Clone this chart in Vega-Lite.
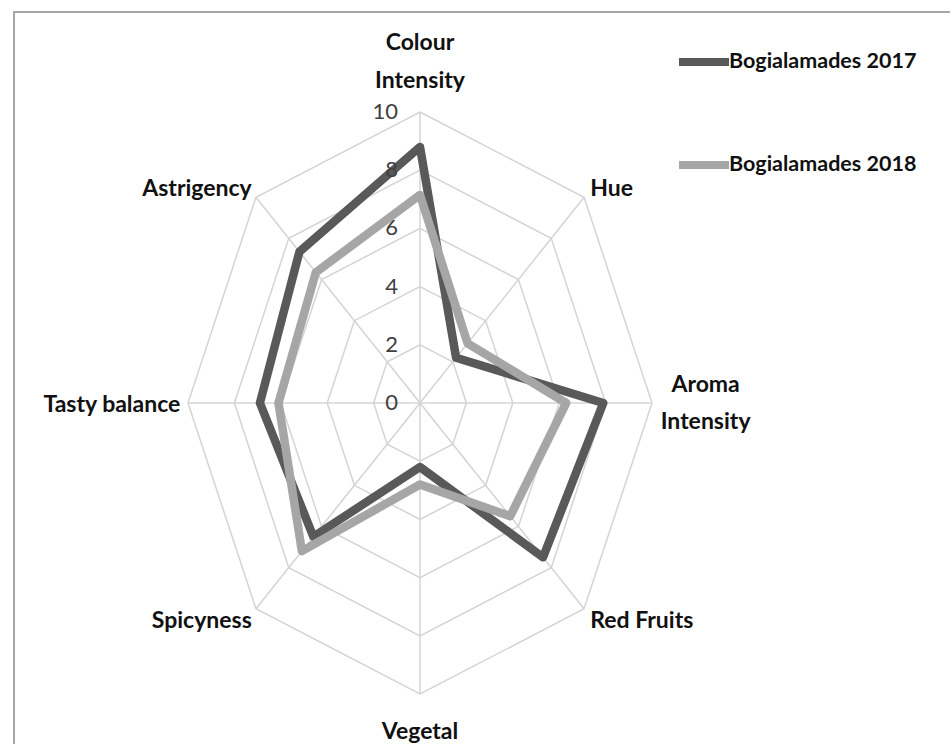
{
  "$schema": "https://vega.github.io/schema/vega-lite/v6.json",
  "width": 940,
  "height": 735,
  "autosize": {"type": "none"},
  "padding": {"left": 14, "top": 12, "right": 0, "bottom": 0},
  "background": "white",
  "config": {
    "view": {"stroke": "#a6a6a6", "strokeWidth": 2},
    "font": "Lato"
  },
  "datasets": {
    "scores": [
      {"series": "Bogialamades 2017", "cat": "Colour Intensity", "idx": 0, "value": 8.8},
      {"series": "Bogialamades 2017", "cat": "Hue", "idx": 1, "value": 2.2},
      {"series": "Bogialamades 2017", "cat": "Aroma Intensity", "idx": 2, "value": 7.9},
      {"series": "Bogialamades 2017", "cat": "Red Fruits", "idx": 3, "value": 7.5},
      {"series": "Bogialamades 2017", "cat": "Vegetal", "idx": 4, "value": 2.2},
      {"series": "Bogialamades 2017", "cat": "Spicyness", "idx": 5, "value": 6.5},
      {"series": "Bogialamades 2017", "cat": "Tasty balance", "idx": 6, "value": 6.9},
      {"series": "Bogialamades 2017", "cat": "Astrigency", "idx": 7, "value": 7.35},
      {"series": "Bogialamades 2018", "cat": "Colour Intensity", "idx": 0, "value": 7.15},
      {"series": "Bogialamades 2018", "cat": "Hue", "idx": 1, "value": 2.9},
      {"series": "Bogialamades 2018", "cat": "Aroma Intensity", "idx": 2, "value": 6.3},
      {"series": "Bogialamades 2018", "cat": "Red Fruits", "idx": 3, "value": 5.5},
      {"series": "Bogialamades 2018", "cat": "Vegetal", "idx": 4, "value": 2.8},
      {"series": "Bogialamades 2018", "cat": "Spicyness", "idx": 5, "value": 7.2},
      {"series": "Bogialamades 2018", "cat": "Tasty balance", "idx": 6, "value": 6.1},
      {"series": "Bogialamades 2018", "cat": "Astrigency", "idx": 7, "value": 6.35}
    ],
    "axes": [
      {"cat": "Colour Intensity", "idx": 0, "label": ["Colour", "Intensity"]},
      {"cat": "Hue", "idx": 1, "label": "Hue"},
      {"cat": "Aroma Intensity", "idx": 2, "label": ["Aroma", "Intensity"]},
      {"cat": "Red Fruits", "idx": 3, "label": "Red Fruits"},
      {"cat": "Vegetal", "idx": 4, "label": "Vegetal"},
      {"cat": "Spicyness", "idx": 5, "label": "Spicyness"},
      {"cat": "Tasty balance", "idx": 6, "label": "Tasty balance"},
      {"cat": "Astrigency", "idx": 7, "label": "Astrigency"}
    ],
    "rings": [
      {"level": 2, "idx": [0, 1, 2, 3, 4, 5, 6, 7]},
      {"level": 4, "idx": [0, 1, 2, 3, 4, 5, 6, 7]},
      {"level": 6, "idx": [0, 1, 2, 3, 4, 5, 6, 7]},
      {"level": 8, "idx": [0, 1, 2, 3, 4, 5, 6, 7]},
      {"level": 10, "idx": [0, 1, 2, 3, 4, 5, 6, 7]}
    ],
    "ticks": [
      {"level": 0}, {"level": 2}, {"level": 4}, {"level": 6}, {"level": 8}, {"level": 10}
    ]
  },
  "layer": [
    {
      "data": {"name": "rings"},
      "transform": [
        {"flatten": ["idx"]},
        {"calculate": "datum.level * sin(datum.idx * PI / 4)", "as": "gx"},
        {"calculate": "datum.level * cos(datum.idx * PI / 4)", "as": "gy"}
      ],
      "mark": {"type": "line", "interpolate": "linear-closed", "color": "#d4d4d4", "strokeWidth": 1.5},
      "encoding": {
        "x": {"field": "gx", "type": "quantitative", "scale": {"domain": [-17.5, 23.017], "nice": false, "zero": false}, "axis": null},
        "y": {"field": "gy", "type": "quantitative", "scale": {"domain": [-11.821, 13.436], "nice": false, "zero": false}, "axis": null},
        "detail": {"field": "level", "type": "nominal"},
        "order": {"field": "idx", "type": "quantitative"}
      }
    },
    {
      "data": {"name": "axes"},
      "transform": [
        {"calculate": "0", "as": "zx"},
        {"calculate": "10 * sin(datum.idx * PI / 4)", "as": "ex"},
        {"calculate": "10 * cos(datum.idx * PI / 4)", "as": "ey"}
      ],
      "mark": {"type": "rule", "color": "#d4d4d4", "strokeWidth": 1.5},
      "encoding": {
        "x": {"field": "zx", "type": "quantitative"},
        "y": {"field": "zx", "type": "quantitative"},
        "x2": {"field": "ex"},
        "y2": {"field": "ey"}
      }
    },
    {
      "data": {"name": "scores"},
      "transform": [
        {"calculate": "datum.value * sin(datum.idx * PI / 4)", "as": "px"},
        {"calculate": "datum.value * cos(datum.idx * PI / 4)", "as": "py"}
      ],
      "mark": {"type": "line", "interpolate": "linear-closed", "strokeWidth": 8.5, "strokeJoin": "round"},
      "encoding": {
        "x": {"field": "px", "type": "quantitative"},
        "y": {"field": "py", "type": "quantitative"},
        "order": {"field": "idx", "type": "quantitative"},
        "color": {
          "field": "series",
          "type": "nominal",
          "scale": {"domain": ["Bogialamades 2017", "Bogialamades 2018"], "range": ["#595959", "#a6a6a6"]},
          "legend": {
            "title": null,
            "orient": "none",
            "legendX": 661,
            "legendY": 21,
            "symbolType": "stroke",
            "symbolStrokeWidth": 8,
            "symbolSize": 2500,
            "labelFont": "Lato",
            "labelFontSize": 21.5,
            "labelFontWeight": "bold",
            "labelColor": "#111111",
            "labelLimit": 400,
            "labelOffset": -4,
            "rowPadding": 58
          }
        }
      }
    },
    {
      "data": {"name": "ticks"},
      "transform": [{"calculate": "0", "as": "zx"}],
      "mark": {"type": "text", "align": "right", "baseline": "middle", "dx": -22, "fontSize": 22, "color": "#404040"},
      "encoding": {
        "x": {"field": "zx", "type": "quantitative"},
        "y": {"field": "level", "type": "quantitative"},
        "text": {"field": "level", "type": "quantitative"}
      }
    },
    {
      "data": {"name": "axes"},
      "transform": [
        {"filter": "datum.idx == 0"},
        {"calculate": "10.5 * sin(datum.idx * PI / 4)", "as": "lx"},
        {"calculate": "10.5 * cos(datum.idx * PI / 4)", "as": "ly"}
      ],
      "mark": {"type": "text", "align": "center", "baseline": "middle", "dy": -54, "fontSize": 23, "fontWeight": "bold", "color": "#111111", "lineHeight": 38},
      "encoding": {
        "x": {"field": "lx", "type": "quantitative"},
        "y": {"field": "ly", "type": "quantitative"},
        "text": {"field": "label", "type": "nominal"}
      }
    },
    {
      "data": {"name": "axes"},
      "transform": [
        {"filter": "datum.idx == 4"},
        {"calculate": "10.5 * sin(datum.idx * PI / 4)", "as": "lx"},
        {"calculate": "10.5 * cos(datum.idx * PI / 4)", "as": "ly"}
      ],
      "mark": {"type": "text", "align": "center", "baseline": "middle", "dy": 23, "fontSize": 23, "fontWeight": "bold", "color": "#111111"},
      "encoding": {
        "x": {"field": "lx", "type": "quantitative"},
        "y": {"field": "ly", "type": "quantitative"},
        "text": {"field": "label", "type": "nominal"}
      }
    },
    {
      "data": {"name": "axes"},
      "transform": [
        {"filter": "datum.idx == 1 || datum.idx == 3"},
        {"calculate": "10.5 * sin(datum.idx * PI / 4)", "as": "lx"},
        {"calculate": "10.5 * cos(datum.idx * PI / 4)", "as": "ly"}
      ],
      "mark": {"type": "text", "align": "left", "baseline": "middle", "dx": -2, "dy": 2, "fontSize": 23, "fontWeight": "bold", "color": "#111111"},
      "encoding": {
        "x": {"field": "lx", "type": "quantitative"},
        "y": {"field": "ly", "type": "quantitative"},
        "text": {"field": "label", "type": "nominal"}
      }
    },
    {
      "data": {"name": "axes"},
      "transform": [
        {"filter": "datum.idx == 2"},
        {"calculate": "10.5 * sin(datum.idx * PI / 4)", "as": "lx"},
        {"calculate": "10.5 * cos(datum.idx * PI / 4)", "as": "ly"}
      ],
      "mark": {"type": "text", "align": "center", "baseline": "middle", "dx": 42, "dy": -18, "fontSize": 23, "fontWeight": "bold", "color": "#111111", "lineHeight": 37},
      "encoding": {
        "x": {"field": "lx", "type": "quantitative"},
        "y": {"field": "ly", "type": "quantitative"},
        "text": {"field": "label", "type": "nominal"}
      }
    },
    {
      "data": {"name": "axes"},
      "transform": [
        {"filter": "datum.idx >= 5"},
        {"calculate": "10.5 * sin(datum.idx * PI / 4)", "as": "lx"},
        {"calculate": "10.5 * cos(datum.idx * PI / 4)", "as": "ly"}
      ],
      "mark": {"type": "text", "align": "right", "baseline": "middle", "dx": 4, "dy": 2, "fontSize": 23, "fontWeight": "bold", "color": "#111111"},
      "encoding": {
        "x": {"field": "lx", "type": "quantitative"},
        "y": {"field": "ly", "type": "quantitative"},
        "text": {"field": "label", "type": "nominal"}
      }
    }
  ]
}
